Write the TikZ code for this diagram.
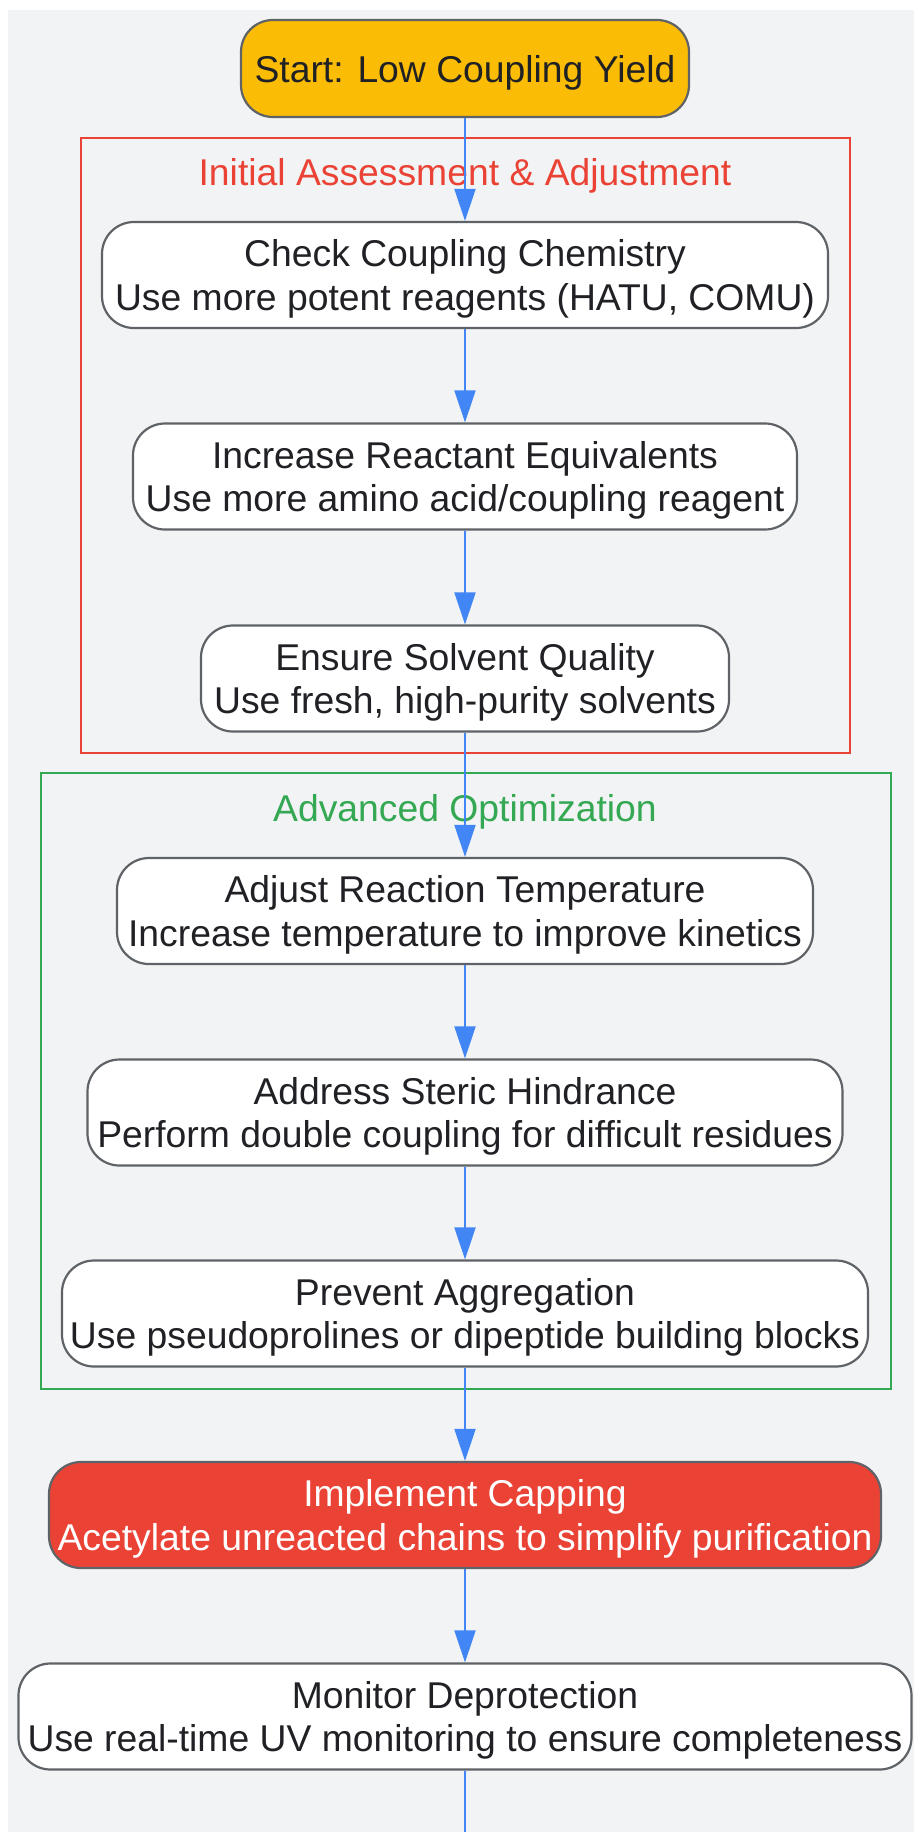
\documentclass[tikz,border=0pt]{standalone}
\usepackage{fontspec}
\setmainfont{Liberation Sans}
\usetikzlibrary{arrows.meta}

\definecolor{bgGray}{HTML}{F1F3F4}
\definecolor{edgeGray}{HTML}{5F6368}
\definecolor{textDark}{HTML}{202124}
\definecolor{startYellow}{HTML}{FBBC05}
\definecolor{capRed}{HTML}{EA4335}
\definecolor{groupRed}{HTML}{EA4335}
\definecolor{groupGreen}{HTML}{34A853}
\definecolor{flowBlue}{HTML}{4285F4}

\tikzset{
    bigfont/.style={font=\fontsize{37.3pt}{43.5pt}\selectfont},
    stepbox/.style={bigfont, draw=edgeGray, line width=2.2pt, fill=white, text=textDark,
        rounded corners=32pt, align=center, minimum height=106pt, inner sep=3pt, text depth=-6pt},
    grouptitle/.style={bigfont, inner sep=0pt},
    flow/.style={draw=flowBlue, line width=2pt, -{Triangle[length=32pt,width=21pt]}},
    flowline/.style={draw=flowBlue, line width=2pt}
}

\begin{document}
\begin{tikzpicture}[x=1pt, y=-1pt]
        \useasboundingbox (0,0) rectangle (914,1832);
        \fill[bgGray] (8,10) rectangle (914,1832);

        % groups
        \draw[groupRed, line width=2pt] (81,138) rectangle (850,753);
        \node[grouptitle, text=groupRed] (initTitle) at (465,176) {Initial Assessment \& Adjustment};
        \draw[groupGreen, line width=2pt] (41,773) rectangle (891,1389);
        \node[grouptitle, text=groupGreen] (advTitle) at (465,812) {Advanced Optimization};

        % steps
        \node[stepbox, fill=startYellow, minimum width=448pt, minimum height=97pt, text depth=-3pt] (start) at (465,68.5) {Start: Low Coupling Yield};
        \node[stepbox, minimum width=726pt] (chem) at (465,275) {Check Coupling Chemistry\\Use more potent reagents (HATU, COMU)};
        \node[stepbox, minimum width=664pt] (equiv) at (465,476.5) {Increase Reactant Equivalents\\Use more amino acid/coupling reagent};
        \node[stepbox, minimum width=528pt] (solvent) at (465,678.5) {Ensure Solvent Quality\\Use fresh, high-purity solvents};
        \node[stepbox, minimum width=696pt] (temp) at (465,911) {Adjust Reaction Temperature\\Increase temperature to improve kinetics};
        \node[stepbox, minimum width=755pt] (steric) at (465,1112.5) {Address Steric Hindrance\\Perform double coupling for difficult residues};
        \node[stepbox, minimum width=806pt] (aggr) at (465,1313.5) {Prevent Aggregation\\Use pseudoprolines or dipeptide building blocks};
        \node[stepbox, fill=capRed, text=white, minimum width=832pt] (capping) at (465,1515) {Implement Capping\\Acetylate unreacted chains to simplify purification};
        \node[stepbox, minimum width=893pt] (monitor) at (465,1716.5) {Monitor Deprotection\\Use real-time UV monitoring to ensure completeness};
        \coordinate (bottomEnd) at (465,1832);

        \draw[flow] (start) -- (chem);
        \draw[flow] (chem) -- (equiv);
        \draw[flow] (equiv) -- (solvent);
        \draw[flow] (solvent) -- (temp);
        \draw[flow] (temp) -- (steric);
        \draw[flow] (steric) -- (aggr);
        \draw[flow] (aggr) -- (capping);
        \draw[flow] (capping) -- (monitor);
        \draw[flowline] (monitor) -- (bottomEnd); % runs off the page
\end{tikzpicture}
\end{document}
